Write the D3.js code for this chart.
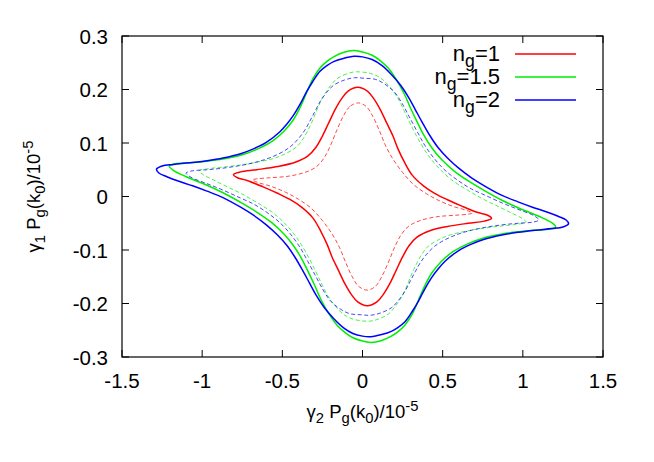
<!DOCTYPE html>
<html>
<head>
<meta charset="utf-8">
<script src="https://cdn.jsdelivr.net/npm/d3@7"></script>
<style>
  body { margin: 0; background: #fff; }
  text { font-family: "Liberation Sans", Arial, sans-serif; }
</style>
</head>
<body>
<div id="chart"></div>
<script>
// tick values
const xTicks = [-1.5, -1, -0.5, 0, 0.5, 1, 1.5];
const yTicks = [-0.3, -0.2, -0.1, 0, 0.1, 0.2, 0.3];

// legend
const legendLabels = ["1", "1.5", "2"];
const colors = ["#ff0000", "#00ee00", "#0000ff"];

// closed curves, [gamma2, gamma1]
const redSolid = [
  [-0.03,0.204],[-0.09,0.197],[-0.13,0.183],[-0.17,0.163],[-0.21,0.138],[-0.25,0.113],[-0.29,0.092],[-0.34,0.076],[-0.42,0.064],[-0.53,0.056],[-0.66,0.050],[-0.76,0.046],[-0.805,0.041],[-0.78,0.035],[-0.72,0.030],[-0.62,0.018],[-0.53,0.006],[-0.45,-0.006],[-0.38,-0.020],[-0.31,-0.040],[-0.26,-0.065],[-0.22,-0.090],[-0.19,-0.113],[-0.15,-0.138],[-0.11,-0.163],[-0.07,-0.183],[-0.03,-0.197],
  [0.03,-0.204],[0.09,-0.197],[0.13,-0.183],[0.17,-0.163],[0.21,-0.138],[0.25,-0.113],[0.29,-0.092],[0.34,-0.076],[0.42,-0.064],[0.53,-0.056],[0.66,-0.050],[0.76,-0.046],[0.805,-0.041],[0.78,-0.035],[0.72,-0.030],[0.62,-0.018],[0.53,-0.006],[0.45,0.006],[0.38,0.020],[0.31,0.040],[0.26,0.065],[0.22,0.090],[0.19,0.113],[0.15,0.138],[0.11,0.163],[0.07,0.183],[0.03,0.197]
];
const redDashed = [
  [-0.026,0.175],[-0.08,0.168],[-0.12,0.150],[-0.16,0.124],[-0.20,0.095],[-0.24,0.072],[-0.29,0.055],[-0.36,0.045],[-0.46,0.038],[-0.58,0.035],[-0.66,0.033],[-0.685,0.031],[-0.65,0.026],[-0.57,0.019],[-0.48,0.008],[-0.40,-0.005],[-0.32,-0.022],[-0.25,-0.045],[-0.19,-0.070],[-0.144,-0.095],[-0.104,-0.124],[-0.064,-0.150],[-0.024,-0.168],
  [0.03,-0.175],[0.08,-0.168],[0.12,-0.150],[0.16,-0.124],[0.20,-0.095],[0.24,-0.072],[0.29,-0.055],[0.36,-0.045],[0.46,-0.038],[0.58,-0.035],[0.66,-0.033],[0.685,-0.031],[0.65,-0.026],[0.57,-0.019],[0.48,-0.008],[0.40,0.005],[0.32,0.022],[0.25,0.045],[0.19,0.070],[0.144,0.095],[0.104,0.124],[0.064,0.150],[0.024,0.168]
];
const greenSolid = [
  [-0.057,0.273],[-0.12,0.269],[-0.18,0.261],[-0.22,0.253],[-0.265,0.240],[-0.31,0.220],[-0.35,0.193],[-0.39,0.166],[-0.43,0.144],[-0.49,0.122],[-0.56,0.104],[-0.66,0.088],[-0.76,0.077],[-0.87,0.070],[-0.97,0.066],[-1.08,0.063],[-1.17,0.061],[-1.205,0.057],[-1.18,0.049],[-1.10,0.037],[-0.97,0.021],[-0.87,0.007],[-0.76,-0.011],[-0.66,-0.029],[-0.57,-0.048],[-0.49,-0.070],[-0.43,-0.092],[-0.38,-0.116],[-0.34,-0.140],[-0.30,-0.165],[-0.26,-0.192],[-0.21,-0.219],[-0.16,-0.240],[-0.11,-0.254],[-0.06,-0.264],[0.00,-0.270],
  [0.057,-0.273],[0.12,-0.269],[0.18,-0.261],[0.22,-0.253],[0.265,-0.240],[0.31,-0.220],[0.35,-0.193],[0.39,-0.166],[0.43,-0.144],[0.49,-0.122],[0.56,-0.104],[0.66,-0.088],[0.76,-0.077],[0.87,-0.070],[0.97,-0.066],[1.08,-0.063],[1.17,-0.061],[1.205,-0.057],[1.18,-0.049],[1.10,-0.037],[0.97,-0.021],[0.87,-0.007],[0.76,0.011],[0.66,0.029],[0.57,0.048],[0.49,0.070],[0.43,0.092],[0.38,0.116],[0.34,0.140],[0.30,0.165],[0.26,0.192],[0.21,0.219],[0.16,0.240],[0.11,0.254],[0.06,0.264],[0.00,0.270]
];
const greenDashed = [
  [-0.045,0.233],[-0.10,0.229],[-0.16,0.220],[-0.20,0.207],[-0.245,0.187],[-0.28,0.165],[-0.31,0.143],[-0.34,0.124],[-0.37,0.108],[-0.41,0.093],[-0.48,0.080],[-0.556,0.071],[-0.66,0.064],[-0.76,0.059],[-0.87,0.055],[-0.96,0.052],[-1.02,0.048],[-0.99,0.040],[-0.93,0.031],[-0.85,0.019],[-0.76,0.006],[-0.66,-0.011],[-0.556,-0.031],[-0.47,-0.055],[-0.41,-0.077],[-0.35,-0.106],[-0.30,-0.135],[-0.26,-0.160],[-0.22,-0.184],[-0.17,-0.205],[-0.11,-0.222],[-0.05,-0.230],
  [0.045,-0.233],[0.10,-0.229],[0.16,-0.220],[0.20,-0.207],[0.245,-0.187],[0.28,-0.165],[0.31,-0.143],[0.34,-0.124],[0.37,-0.108],[0.41,-0.093],[0.48,-0.080],[0.556,-0.071],[0.66,-0.064],[0.76,-0.059],[0.87,-0.055],[0.96,-0.052],[1.02,-0.048],[0.99,-0.040],[0.93,-0.031],[0.85,-0.019],[0.76,-0.006],[0.66,0.011],[0.556,0.031],[0.47,0.055],[0.41,0.077],[0.35,0.106],[0.30,0.135],[0.26,0.160],[0.22,0.184],[0.17,0.205],[0.11,0.222],[0.05,0.230]
];
const blueSolid = [
  [-0.052,0.262],[-0.12,0.258],[-0.18,0.252],[-0.22,0.245],[-0.265,0.234],[-0.31,0.215],[-0.35,0.195],[-0.39,0.172],[-0.43,0.152],[-0.47,0.136],[-0.515,0.121],[-0.60,0.101],[-0.68,0.089],[-0.76,0.080],[-0.87,0.072],[-0.97,0.067],[-1.08,0.063],[-1.18,0.060],[-1.25,0.057],[-1.285,0.051],[-1.27,0.044],[-1.22,0.037],[-1.15,0.029],[-1.06,0.020],[-0.97,0.010],[-0.87,-0.002],[-0.76,-0.020],[-0.68,-0.035],[-0.60,-0.053],[-0.53,-0.072],[-0.47,-0.092],[-0.42,-0.114],[-0.37,-0.140],[-0.33,-0.162],[-0.29,-0.184],[-0.24,-0.207],[-0.18,-0.228],[-0.12,-0.245],[-0.06,-0.256],[0.00,-0.261],
  [0.052,-0.262],[0.12,-0.258],[0.18,-0.252],[0.22,-0.245],[0.265,-0.234],[0.31,-0.215],[0.35,-0.195],[0.39,-0.172],[0.43,-0.152],[0.47,-0.136],[0.515,-0.121],[0.60,-0.101],[0.68,-0.089],[0.76,-0.080],[0.87,-0.072],[0.97,-0.067],[1.08,-0.063],[1.18,-0.060],[1.25,-0.057],[1.285,-0.051],[1.27,-0.044],[1.22,-0.037],[1.15,-0.029],[1.06,-0.020],[0.97,-0.010],[0.87,0.002],[0.76,0.020],[0.68,0.035],[0.60,0.053],[0.53,0.072],[0.47,0.092],[0.42,0.114],[0.37,0.140],[0.33,0.162],[0.29,0.184],[0.24,0.207],[0.18,0.228],[0.12,0.245],[0.06,0.256],[0.00,0.261]
];
const blueDashed = [
  [-0.05,0.222],[-0.11,0.218],[-0.18,0.208],[-0.225,0.194],[-0.265,0.177],[-0.30,0.157],[-0.33,0.140],[-0.36,0.124],[-0.40,0.108],[-0.45,0.093],[-0.52,0.080],[-0.60,0.070],[-0.68,0.063],[-0.76,0.058],[-0.87,0.053],[-0.97,0.050],[-1.06,0.048],[-1.10,0.044],[-1.07,0.036],[-0.97,0.024],[-0.87,0.012],[-0.76,-0.003],[-0.68,-0.014],[-0.60,-0.029],[-0.515,-0.049],[-0.45,-0.070],[-0.39,-0.095],[-0.34,-0.122],[-0.29,-0.150],[-0.245,-0.175],[-0.20,-0.195],[-0.14,-0.210],[-0.08,-0.219],[-0.01,-0.221],
  [0.05,-0.222],[0.11,-0.218],[0.18,-0.208],[0.225,-0.194],[0.265,-0.177],[0.30,-0.157],[0.33,-0.140],[0.36,-0.124],[0.40,-0.108],[0.45,-0.093],[0.52,-0.080],[0.60,-0.070],[0.68,-0.063],[0.76,-0.058],[0.87,-0.053],[0.97,-0.050],[1.06,-0.048],[1.10,-0.044],[1.07,-0.036],[0.97,-0.024],[0.87,-0.012],[0.76,0.003],[0.68,0.014],[0.60,0.029],[0.515,0.049],[0.45,0.070],[0.39,0.095],[0.34,0.122],[0.29,0.150],[0.245,0.175],[0.20,0.195],[0.14,0.210],[0.08,0.219],[0.01,0.221]
];

const width = 654, height = 462;
const margin = { top: 36, right: 51, bottom: 105, left: 122 };

const svg = d3.select("#chart").append("svg")
  .attr("width", width).attr("height", height);

const x = d3.scaleLinear().domain([-1.5, 1.5]).range([margin.left, width - margin.right]);
const y = d3.scaleLinear().domain([-0.3, 0.3]).range([height - margin.bottom, margin.top]);

const line = d3.line()
  .x(d => x(d[0])).y(d => y(d[1]))
  .curve(d3.curveCatmullRomClosed.alpha(0.5));

// tick marks on all four sides (inward)
const tl = 7;
const ticks = svg.append("g").attr("stroke", "#000").attr("stroke-width", 1);
xTicks.forEach(t => {
  ticks.append("line").attr("x1", x(t)).attr("x2", x(t)).attr("y1", y(-0.3)).attr("y2", y(-0.3) - tl);
  ticks.append("line").attr("x1", x(t)).attr("x2", x(t)).attr("y1", y(0.3)).attr("y2", y(0.3) + tl);
});
yTicks.forEach(t => {
  ticks.append("line").attr("x1", x(-1.5)).attr("x2", x(-1.5) + tl).attr("y1", y(t)).attr("y2", y(t));
  ticks.append("line").attr("x1", x(1.5)).attr("x2", x(1.5) - tl).attr("y1", y(t)).attr("y2", y(t));
});

// tick labels
svg.append("g").attr("font-size", 20.5).attr("text-anchor", "middle")
  .selectAll("text").data(xTicks).join("text")
  .attr("x", d => x(d)).attr("y", y(-0.3) + 31)
  .text(d => d);
svg.append("g").attr("font-size", 20.5).attr("text-anchor", "end")
  .selectAll("text").data(yTicks).join("text")
  .attr("x", x(-1.5) - 14).attr("y", d => y(d) + 7.5)
  .text(d => d);

// curves
const curves = [
  { pts: redSolid, c: colors[0], dash: null },
  { pts: redDashed, c: colors[0], dash: "4,2.5" },
  { pts: greenSolid, c: colors[1], dash: null },
  { pts: greenDashed, c: colors[1], dash: "4,2.5" },
  { pts: blueSolid, c: colors[2], dash: null },
  { pts: blueDashed, c: colors[2], dash: "4,2.5" }
];
svg.append("g").attr("fill", "none")
  .selectAll("path").data(curves).join("path")
  .attr("d", d => line(d.pts))
  .attr("stroke", d => d.c)
  .attr("stroke-width", d => d.dash ? 0.9 : 1.5)
  .attr("stroke-opacity", d => d.dash ? 0.8 : 1)
  .attr("stroke-dasharray", d => d.dash);

// border
svg.append("rect")
  .attr("x", x(-1.5)).attr("y", y(0.3))
  .attr("width", x(1.5) - x(-1.5)).attr("height", y(-0.3) - y(0.3))
  .attr("fill", "none").attr("stroke", "#000").attr("stroke-width", 1.2);

// rich text helper: segments [text, shift] with shift -1 sub, +1 sup
function rich(sel, segs, sub, sup) {
  let cur = 0;
  segs.forEach(([t, s]) => {
    const ts = sel.append("tspan").text(t);
    const target = s === -1 ? sub : s === 1 ? -sup : 0;
    if (target !== cur) ts.attr("dy", target - cur);
    if (s !== 0) ts.attr("font-size", "0.8em");
    cur = target;
  });
}

// legend
const legend = svg.append("g").attr("font-size", 22);
legendLabels.forEach((lab, i) => {
  const ly = 54 + i * 23;
  const t = legend.append("text").attr("x", 500).attr("y", ly + 7).attr("text-anchor", "end");
  rich(t, [["n", 0], ["g", -1], ["=" + lab, 0]], 6, 7);
  legend.append("line").attr("x1", 515).attr("x2", 576).attr("y1", ly).attr("y2", ly)
    .attr("stroke", colors[i]).attr("stroke-width", 1.5);
});

// axis labels
const xl = svg.append("text").attr("font-size", 18.5).attr("text-anchor", "middle")
  .attr("x", x(0)).attr("y", 418);
rich(xl, [["γ", 0], ["2", -1], [" P", 0], ["g", -1], ["(k", 0], ["0", -1], [")/10", 0], ["-5", 1]], 5, 7);

const yl = svg.append("text").attr("font-size", 18.5).attr("text-anchor", "middle")
  .attr("transform", `translate(40,${y(0)}) rotate(-90)`);
rich(yl, [["γ", 0], ["1", -1], [" P", 0], ["g", -1], ["(k", 0], ["0", -1], [")/10", 0], ["-5", 1]], 5, 7);
</script>
</body>
</html>
